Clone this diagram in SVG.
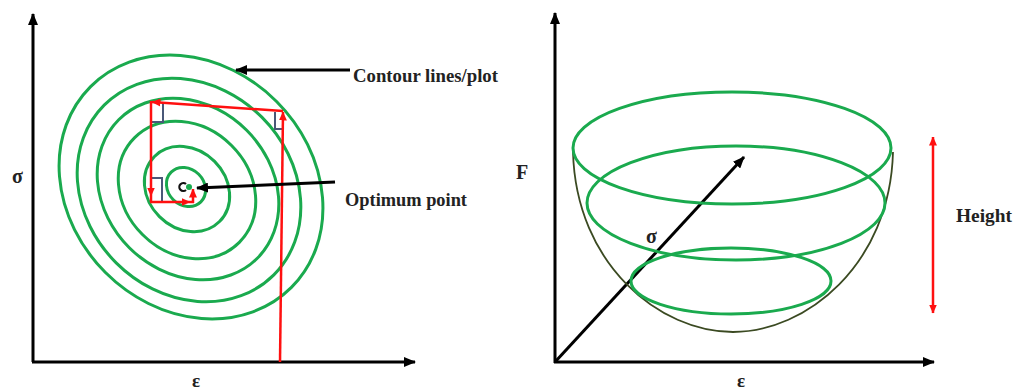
<svg xmlns="http://www.w3.org/2000/svg" width="1015" height="390" viewBox="0 0 1015 390">
<style>
.axis{stroke:#000;stroke-width:3;fill:none}
.ring{stroke:#1aaa4e;stroke-width:3;fill:none}
.red{stroke:#ff1010;stroke-width:2.5;fill:none}
.mark{stroke:#4a5878;stroke-width:2;fill:none}
.bowl{stroke:#3b4a22;stroke-width:1.8;fill:none}
.lbl{font-family:"Liberation Serif","Times New Roman",serif;font-weight:bold;fill:#222}
</style>
<defs>
<marker id="ab" markerUnits="userSpaceOnUse" markerWidth="12" markerHeight="10" refX="11" refY="5" orient="auto">
<path d="M0,0 L12,5 L0,10 Z" fill="#000"/>
</marker>
<marker id="ar" markerUnits="userSpaceOnUse" markerWidth="9" markerHeight="8" refX="8.5" refY="4" orient="auto">
<path d="M0,0 L9,4 L0,8 Z" fill="#ff1010"/>
</marker>
<marker id="ars" markerUnits="userSpaceOnUse" markerWidth="9" markerHeight="8" refX="0.5" refY="4" orient="auto">
<path d="M9,0 L0,4 L9,8 Z" fill="#ff1010"/>
</marker>
</defs>
<rect width="1015" height="390" fill="#fff"/>

<g id="left-plot">
<g id="left-axes">
<line class="axis" x1="33" y1="362" x2="33" y2="14" marker-end="url(#ab)"/>
<line class="axis" x1="32" y1="362" x2="415" y2="362" marker-end="url(#ab)"/>
</g>
<g id="contours">
<ellipse class="ring" cx="191" cy="187" rx="142" ry="121" transform="rotate(45 191 187)"/>
<ellipse class="ring" cx="189" cy="190" rx="120" ry="103" transform="rotate(45 189 190)"/>
<ellipse class="ring" cx="188" cy="189" rx="98" ry="83" transform="rotate(45 188 189)"/>
<ellipse class="ring" cx="187" cy="190" rx="74" ry="63" transform="rotate(45 187 190)"/>
<ellipse class="ring" cx="187" cy="189" rx="46" ry="39" transform="rotate(45 187 189)"/>
<ellipse class="ring" cx="186" cy="187" rx="21" ry="18" transform="rotate(45 186 187)"/>
</g>
<g id="right-angle-marks">
<path class="mark" d="M152,122 H163 V104"/>
<path class="mark" d="M275,112 V129 H283"/>
<path class="mark" d="M151,178 H162 V201"/>
</g>
<g id="optimum">
<path d="M186,184 A4,4 0 1 0 186,190" stroke="#111" stroke-width="2.2" fill="none"/>
<circle cx="189" cy="187" r="3" fill="#1aaa4e"/>
</g>
<g id="descent-path">
<line class="red" x1="280" y1="362" x2="283" y2="112" marker-end="url(#ar)"/>
<line class="red" x1="283" y1="111" x2="152" y2="102" marker-end="url(#ar)"/>
<line class="red" x1="151" y1="101" x2="151" y2="196" marker-end="url(#ar)"/>
<line class="red" x1="151" y1="196" x2="151" y2="202"/>
<line class="red" x1="150" y1="202" x2="190" y2="202" marker-end="url(#ar)"/>
<line class="red" x1="190" y1="202" x2="194" y2="202"/>
<line class="red" x1="193" y1="203" x2="193" y2="189" marker-end="url(#ar)"/>
</g>
<g id="left-labels">
<text class="lbl" x="12" y="183" font-size="20">σ</text>
<text class="lbl" x="192" y="387" font-size="19">ε</text>
</g>
</g>

<g id="right-plot">
<g id="right-axes">
<line class="axis" x1="555" y1="363" x2="555" y2="13" marker-end="url(#ab)"/>
<line class="axis" x1="554" y1="362" x2="934" y2="362" marker-end="url(#ab)"/>
<line class="axis" x1="555" y1="362" x2="744" y2="157" marker-end="url(#ab)"/>
</g>
<g id="bowl">
<path class="bowl" d="M573,152 C576,265 660,332 733,332 C806,332 890,265 893,152"/>
<ellipse class="ring" cx="732" cy="148" rx="159" ry="56"/>
<ellipse class="ring" cx="736" cy="203" rx="149" ry="57"/>
<ellipse class="ring" cx="731" cy="281" rx="100" ry="33"/>
</g>
<g id="height-arrow">
<line class="red" x1="933" y1="137" x2="933" y2="313" marker-start="url(#ars)" marker-end="url(#ar)"/>
</g>
<g id="right-labels">
<text class="lbl" x="516" y="179" font-size="20">F</text>
<text class="lbl" x="646" y="243" font-size="20">σ</text>
<text class="lbl" x="737" y="387" font-size="19">ε</text>
<text class="lbl" x="956" y="222" font-size="19" textLength="56" lengthAdjust="spacingAndGlyphs">Height</text>
</g>
</g>

<g id="connectors">
<line class="axis" x1="350" y1="70" x2="236" y2="70" marker-end="url(#ab)"/>
<line class="axis" x1="335" y1="182" x2="197" y2="188" marker-end="url(#ab)"/>
</g>
<g id="annotation-labels">
<text class="lbl" x="353" y="82" font-size="19" textLength="145" lengthAdjust="spacingAndGlyphs">Contour lines/plot</text>
<text class="lbl" x="345" y="206" font-size="19" textLength="122" lengthAdjust="spacingAndGlyphs">Optimum point</text>
</g>
</svg>
